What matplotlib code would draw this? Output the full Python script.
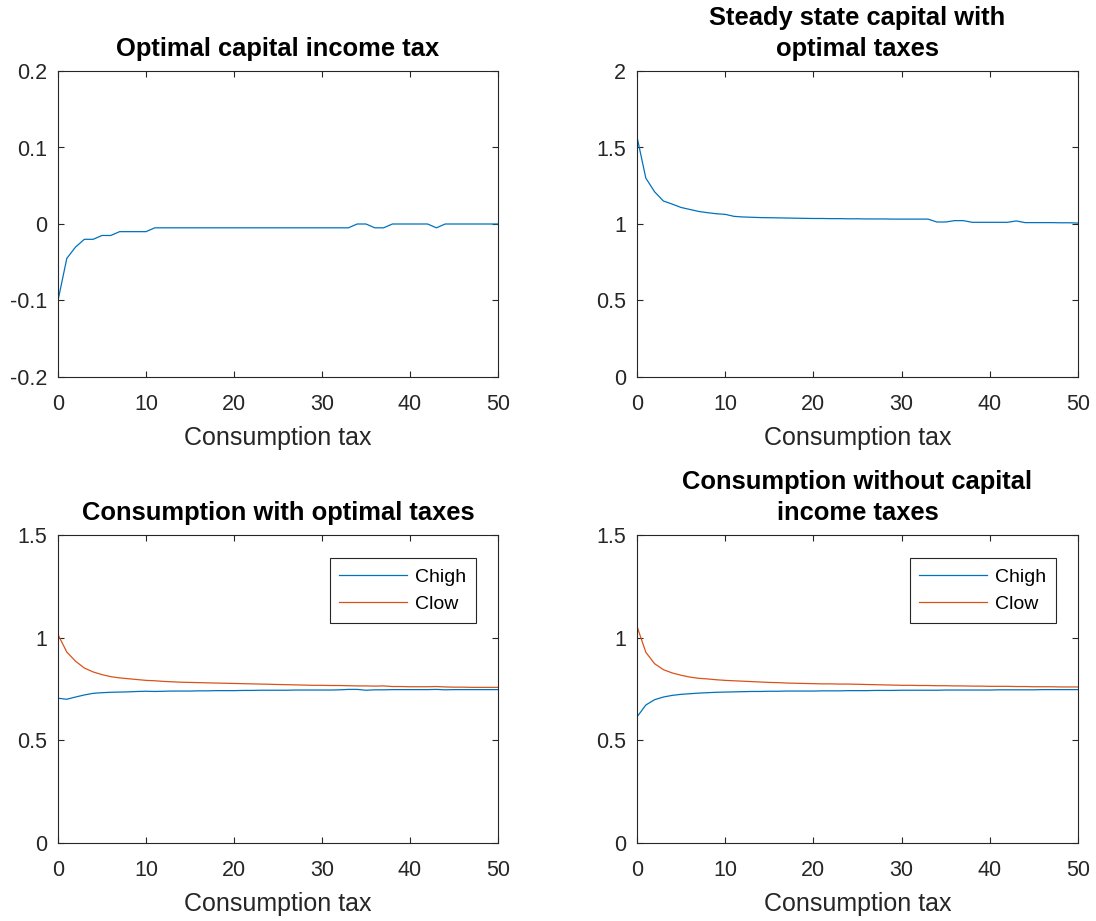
import numpy as np
import matplotlib
matplotlib.use("Agg")
import matplotlib.pyplot as plt

plt.rcParams["font.family"] = ["Liberation Sans", "DejaVu Sans"]
plt.rcParams["axes.unicode_minus"] = False

# Consumption tax grid
cons_tax = list(range(0, 51))

# Optimal capital income tax
tau_k = ([-0.1, -0.045, -0.03, -0.02, -0.02, -0.015, -0.015, -0.01, -0.01, -0.01, -0.01]
         + [-0.005] * 23
         + [0.0, 0.0, -0.005, -0.005]
         + [0.0] * 5
         + [-0.005]
         + [0.0] * 7)

# Steady state capital with optimal taxes
capital = [1.57, 1.30, 1.21, 1.15, 1.13, 1.108, 1.095, 1.082, 1.074, 1.067, 1.063,
           1.050, 1.046, 1.044, 1.042, 1.041, 1.040, 1.039, 1.038, 1.037, 1.036,
           1.036, 1.035, 1.035, 1.034, 1.034, 1.033, 1.033, 1.033, 1.032, 1.032,
           1.032, 1.032, 1.032, 1.013, 1.013, 1.022, 1.022, 1.011, 1.011, 1.011,
           1.011, 1.011, 1.020, 1.009, 1.009, 1.009, 1.009, 1.008, 1.008, 1.006]

# Consumption with optimal taxes
chigh_opt = [0.705, 0.700, 0.711, 0.721, 0.729, 0.732, 0.734, 0.735, 0.736, 0.738, 0.739,
             0.738, 0.739, 0.740, 0.740, 0.740, 0.741, 0.741, 0.742, 0.742, 0.742,
             0.743, 0.743, 0.744, 0.744, 0.744, 0.744, 0.745, 0.745, 0.745, 0.745,
             0.745, 0.746, 0.748, 0.748, 0.744, 0.746, 0.746, 0.747, 0.747, 0.747,
             0.747, 0.747, 0.748, 0.746, 0.747, 0.747, 0.747, 0.747, 0.747, 0.747]
clow_opt = [1.015, 0.930, 0.885, 0.852, 0.833, 0.820, 0.810, 0.804, 0.800, 0.796, 0.792,
            0.790, 0.787, 0.785, 0.783, 0.782, 0.781, 0.780, 0.779, 0.778, 0.777,
            0.776, 0.775, 0.774, 0.773, 0.772, 0.771, 0.770, 0.769, 0.768, 0.768,
            0.767, 0.767, 0.766, 0.765, 0.765, 0.764, 0.765, 0.762, 0.762, 0.761,
            0.761, 0.761, 0.762, 0.760, 0.759, 0.759, 0.758, 0.758, 0.758, 0.758]

# Consumption without capital income taxes
chigh_nok = [0.614, 0.672, 0.698, 0.711, 0.719, 0.724, 0.727, 0.730, 0.732, 0.734, 0.735,
             0.736, 0.737, 0.738, 0.738, 0.739, 0.739, 0.740, 0.740, 0.740, 0.740,
             0.741, 0.741, 0.741, 0.742, 0.742, 0.742, 0.743, 0.743, 0.743, 0.744,
             0.744, 0.744, 0.744, 0.744, 0.745, 0.745, 0.745, 0.745, 0.745, 0.745,
             0.746, 0.746, 0.746, 0.746, 0.746, 0.747, 0.747, 0.747, 0.747, 0.747]
clow_nok = [1.055, 0.929, 0.873, 0.844, 0.828, 0.817, 0.808, 0.802, 0.799, 0.795, 0.792,
            0.790, 0.788, 0.786, 0.784, 0.782, 0.781, 0.779, 0.778, 0.777, 0.776,
            0.775, 0.775, 0.774, 0.774, 0.773, 0.772, 0.771, 0.770, 0.769, 0.768,
            0.768, 0.767, 0.767, 0.766, 0.766, 0.765, 0.765, 0.764, 0.764, 0.763,
            0.763, 0.763, 0.762, 0.762, 0.761, 0.761, 0.761, 0.760, 0.760, 0.760]

titles = ["Optimal capital income tax",
          "Steady state capital with\noptimal taxes",
          "Consumption with optimal taxes",
          "Consumption without capital\nincome taxes"]
series_names = ["Chigh", "Clow"]
x_label = "Consumption tax"

BLUE = "#0072BD"
ORANGE = "#D95319"
AXC = "#262626"

fig = plt.figure(figsize=(10.96, 9.21), dpi=100)
W, H = 1096, 921


def make_ax(l, r, t, b):
    return fig.add_axes([l / W, 1 - b / H, (r - l) / W, (b - t) / H])


axes = [make_ax(58, 498, 71, 377), make_ax(637, 1078, 71, 377),
        make_ax(58, 498, 535, 843), make_ax(637, 1078, 535, 843)]


def style(ax, ylim, yticks, title):
    ax.set_xlim(0, 50)
    ax.set_xticks([0, 10, 20, 30, 40, 50])
    ax.set_ylim(*ylim)
    ax.set_yticks(yticks)
    ax.set_yticklabels([("%g" % v) for v in yticks])
    ax.tick_params(direction="in", top=True, right=True, length=4, width=0.8,
                   colors=AXC, labelsize=15.5)
    ax.tick_params(axis="x", pad=12)
    ax.tick_params(axis="y", pad=8)
    for s in ax.spines.values():
        s.set_color(AXC)
        s.set_linewidth(0.8)
    ax.set_xlabel(x_label, fontsize=18, color=AXC, labelpad=8.5)
    ax.set_title(title, fontsize=18.4, fontweight="bold", color="black", pad=10.5,
                 linespacing=1.4)


ax = axes[0]
ax.plot(cons_tax, tau_k, color=BLUE, lw=0.9)
style(ax, (-0.2, 0.2), [-0.2, -0.1, 0, 0.1, 0.2], titles[0])

ax = axes[1]
ax.plot(cons_tax, capital, color=BLUE, lw=0.9)
style(ax, (0, 2), [0, 0.5, 1, 1.5, 2], titles[1])

for ax, ch, cl, t in [(axes[2], chigh_opt, clow_opt, titles[2]),
                      (axes[3], chigh_nok, clow_nok, titles[3])]:
    ax.plot(cons_tax, ch, color=BLUE, lw=0.9, label=series_names[0])
    ax.plot(cons_tax, cl, color=ORANGE, lw=0.9, label=series_names[1])
    style(ax, (0, 1.5), [0, 0.5, 1, 1.5], t)
    leg = ax.legend(loc="upper right", bbox_to_anchor=(0.950, 0.924),
                    borderaxespad=0, fontsize=14, handlelength=3.5,
                    handletextpad=0.4, borderpad=0.5, labelspacing=0.5,
                    fancybox=False, framealpha=1)
    leg.get_frame().set_edgecolor(AXC)
    leg.get_frame().set_linewidth(0.8)

fig.savefig("out.png", dpi=100)
